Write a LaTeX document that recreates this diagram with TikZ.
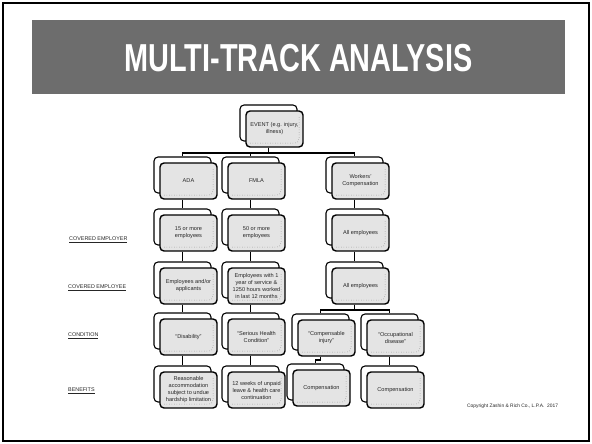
\documentclass[tikz,border=0pt]{standalone}
\usepackage{fontspec}
\setmainfont{Liberation Sans}
\usetikzlibrary{shadows,backgrounds}

\definecolor{barGray}{HTML}{6D6D6D}
\definecolor{boxGray}{HTML}{E4E4E4}

\tikzset{
    orgbox/.style={draw=black, line width=1.4pt, fill=boxGray, rounded corners=4pt,
        minimum width=57pt, minimum height=36pt, inner sep=1pt, align=center,
        text=black!85, font=\fontsize{5.6}{7}\selectfont,
        general shadow={shadow xshift=-6pt, shadow yshift=6pt, fill=white, draw=black, line width=1.1pt},
        path picture={\draw[dotted, line width=0.5pt, black!55]
            ([shift={(-4pt,-6pt)}]path picture bounding box.north east)
            -- ([shift={(-4pt,4pt)}]path picture bounding box.south east)
            -- ([shift={(3pt,4pt)}]path picture bounding box.south west);}},
    link/.style={line width=1.8pt},
    rowlabel/.style={anchor=west, inner sep=0pt, font=\fontsize{5.4}{6}\selectfont, text=black!85}
}

\begin{document}
\begin{tikzpicture}[x=1pt, y=-1pt]
        \useasboundingbox (0,0) rectangle (592,444);
        \draw[line width=2pt] (3,3) rectangle (589,441);

        % title
        \fill[barGray] (32,20) rectangle (565,94);
        \node[anchor=base, text=white, xscale=0.74, font=\fontsize{39}{40}\selectfont\bfseries] (title) at (298.5,71) {MULTI-TRACK ANALYSIS};

        % row labels
        \node[rowlabel] (lemployer) at (69,240) {\underline{COVERED EMPLOYER}};
        \node[rowlabel] (lemployee) at (68,288) {\underline{COVERED EMPLOYEE}};
        \node[rowlabel] (lcondition) at (68,336) {\underline{CONDITION}};
        \node[rowlabel] (lbenefits) at (68,391) {\underline{BENEFITS}};

        % boxes
        \node[orgbox] (event) at (274.5,129) {EVENT (e.g. injury,\\illness)};

        \node[orgbox] (ada) at (188.5,181) {ADA};
        \node[orgbox] (fmla) at (256.5,181) {FMLA};
        \node[orgbox] (wc) at (360.5,181) {Workers'\\Compensation};

        \node[orgbox] (adaEr) at (188.5,233) {15 or more\\employees};
        \node[orgbox] (fmlaEr) at (256.5,233) {50 or more\\employees};
        \node[orgbox] (wcEr) at (360.5,233) {All employees};

        \node[orgbox] (adaEe) at (188.5,286) {Employees and/or\\applicants};
        \node[orgbox] (fmlaEe) at (256.5,286) {Employees with 1\\year of service \&\\1250 hours worked\\in last 12 months};
        \node[orgbox] (wcEe) at (360.5,286) {All employees};

        \node[orgbox] (adaCond) at (188.5,337) {``Disability''};
        \node[orgbox] (fmlaCond) at (256.5,337) {``Serious Health\\Condition''};
        \node[orgbox] (wcInj) at (326.5,338) {``Compensable\\injury''};
        \node[orgbox] (wcDis) at (395.5,338) {``Occupational\\disease''};

        \node[orgbox] (adaBen) at (188.5,390) {Reasonable\\accommodation\\subject to undue\\hardship limitation};
        \node[orgbox] (fmlaBen) at (256.5,390) {12 weeks of unpaid\\leave \& health care\\continuation};
        \node[orgbox] (injBen) at (321.5,388) {Compensation};
        \node[orgbox] (disBen) at (395.5,390) {Compensation};

        \node[anchor=west, inner sep=0pt, font=\fontsize{4.9}{6}\selectfont, text=black!85] (copy) at (467,406) {Copyright Zashin \& Rich Co., L.P.A.\ \ 2017};

        % connectors
        \begin{scope}[on background layer]
            \foreach \kid in {ada,fmla,wc} {
                \draw[link] ([xshift=-6pt]event.south) -- ++(0,5) -| ([shift={(-6pt,6pt)}]\kid.north);
            }
            \foreach \up/\down in {ada/adaEr, adaEr/adaEe, adaEe/adaCond, adaCond/adaBen,
                                   fmla/fmlaEr, fmlaEr/fmlaEe, fmlaEe/fmlaCond, fmlaCond/fmlaBen,
                                   wc/wcEr, wcEr/wcEe, wcDis/disBen} {
                \draw[link] ([xshift=-6pt]\up.south) -- ([shift={(-6pt,6pt)}]\down.north);
            }
            \foreach \kid in {wcInj,wcDis} {
                \draw[link] ([xshift=-6pt]wcEe.south) -- ++(0,5) -| ([shift={(-6pt,6pt)}]\kid.north);
            }
            \draw[link] ([xshift=-6pt]wcInj.south) -- ++(0,3) -| ([shift={(-6pt,6pt)}]injBen.north);
        \end{scope}
    \end{tikzpicture}
\end{document}
